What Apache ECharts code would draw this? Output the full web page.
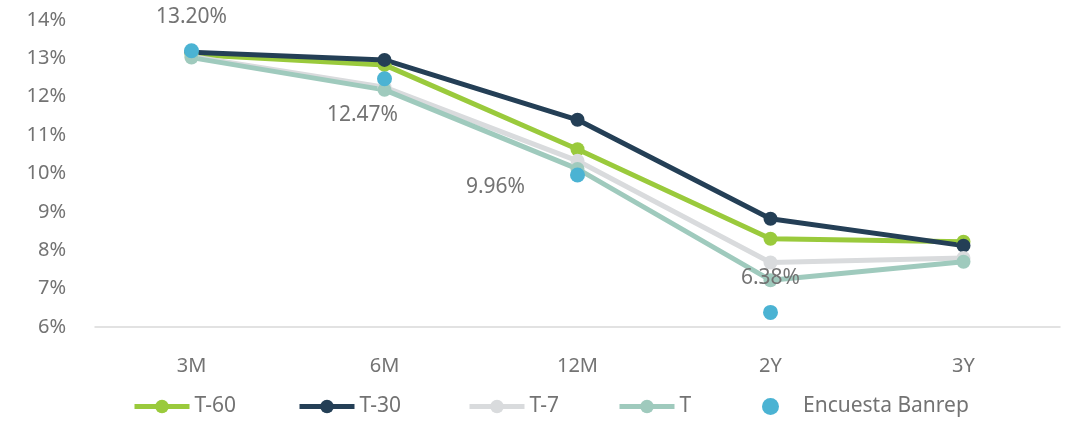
<!DOCTYPE html>
<html>
<head>
<meta charset="utf-8">
<script src="https://cdn.jsdelivr.net/npm/echarts@6/dist/echarts.min.js"></script>
<style>
  html, body { margin: 0; padding: 0; background: #fff; }
  #chart { width: 1069px; height: 422px; }
</style>
</head>
<body>
<div id="chart"></div>
<script>
// Tenors on the x axis
const tenors = ['3M', '6M', '12M', '2Y', '3Y'];
// Yield curves (%) at different dates
const t60 = [13.10, 12.83, 10.63, 8.30, 8.22];
const t30 = [13.16, 12.96, 11.40, 8.82, 8.12];
const t7 = [13.05, 12.25, 10.33, 7.68, 7.80];
const tNow = [13.02, 12.18, 10.12, 7.22, 7.70];
// Central bank survey expectations (%)
const encuesta = [13.20, 12.47, 9.96, 6.38, null];
// Legend entries
const legendNames = ['T-60', 'T-30', 'T-7', 'T', 'Encuesta Banrep'];
// Y axis range
const yMin = 6, yMax = 14, yStep = 1;

const font = 'Noto Sans';
const grey = '#737373';

function curve(name, data, color) {
  return {
    name, type: 'line', data,
    symbol: 'circle', symbolSize: 14,
    lineStyle: { width: 5, color },
    itemStyle: { color },
    emphasis: { disabled: true }
  };
}

// Survey labels are nudged individually so they sit clear of the curves
const labelOffsets = [[0, -34], [-22, 36], [-82, 12], [0, -34], [0, 0]];

// One legend block per entry so each can be spaced independently
const legendLeft = [127, 292, 462, 612, 757];
const legends = legendNames.map((n, i) => ({
  bottom: 0, left: legendLeft[i], itemWidth: 55, itemHeight: 17,
  lineStyle: { width: 5 },
  textStyle: { color: grey, fontSize: 21, fontFamily: font },
  selectedMode: false,
  data: [n]
}));

const chart = echarts.init(document.getElementById('chart'));
chart.setOption({
  animation: false,
  textStyle: { fontFamily: font },
  grid: { left: 95, right: 9, top: 20, bottom: 95 },
  xAxis: {
    type: 'category', data: tenors, boundaryGap: true,
    axisLine: { lineStyle: { color: '#d9d9d9', width: 1.5 } },
    axisTick: { show: false },
    axisLabel: { color: grey, fontSize: 20, margin: 29, fontFamily: font }
  },
  yAxis: {
    type: 'value', min: yMin, max: yMax, interval: yStep,
    axisLine: { show: false }, axisTick: { show: false },
    splitLine: { show: false },
    axisLabel: { color: grey, fontSize: 20, margin: 29, formatter: '{value}%', fontFamily: font }
  },
  legend: legends,
  series: [
    curve(legendNames[0], t60, '#9aca3c'),
    curve(legendNames[1], t30, '#243f56'),
    curve(legendNames[2], t7, '#d9dbdd'),
    curve(legendNames[3], tNow, '#9fcabd'),
    {
      name: legendNames[4], type: 'scatter',
      symbol: 'circle', symbolSize: 15,
      itemStyle: { color: '#4bb3d3', opacity: 1 },
      emphasis: { disabled: true },
      data: encuesta.map((v, i) => v == null ? null : {
        value: v,
        label: {
          show: true, position: 'inside', offset: labelOffsets[i],
          formatter: v.toFixed(2) + '%',
          color: grey, fontSize: 21, fontFamily: font
        }
      }),
      z: 5
    }
  ]
});
</script>
</body>
</html>
